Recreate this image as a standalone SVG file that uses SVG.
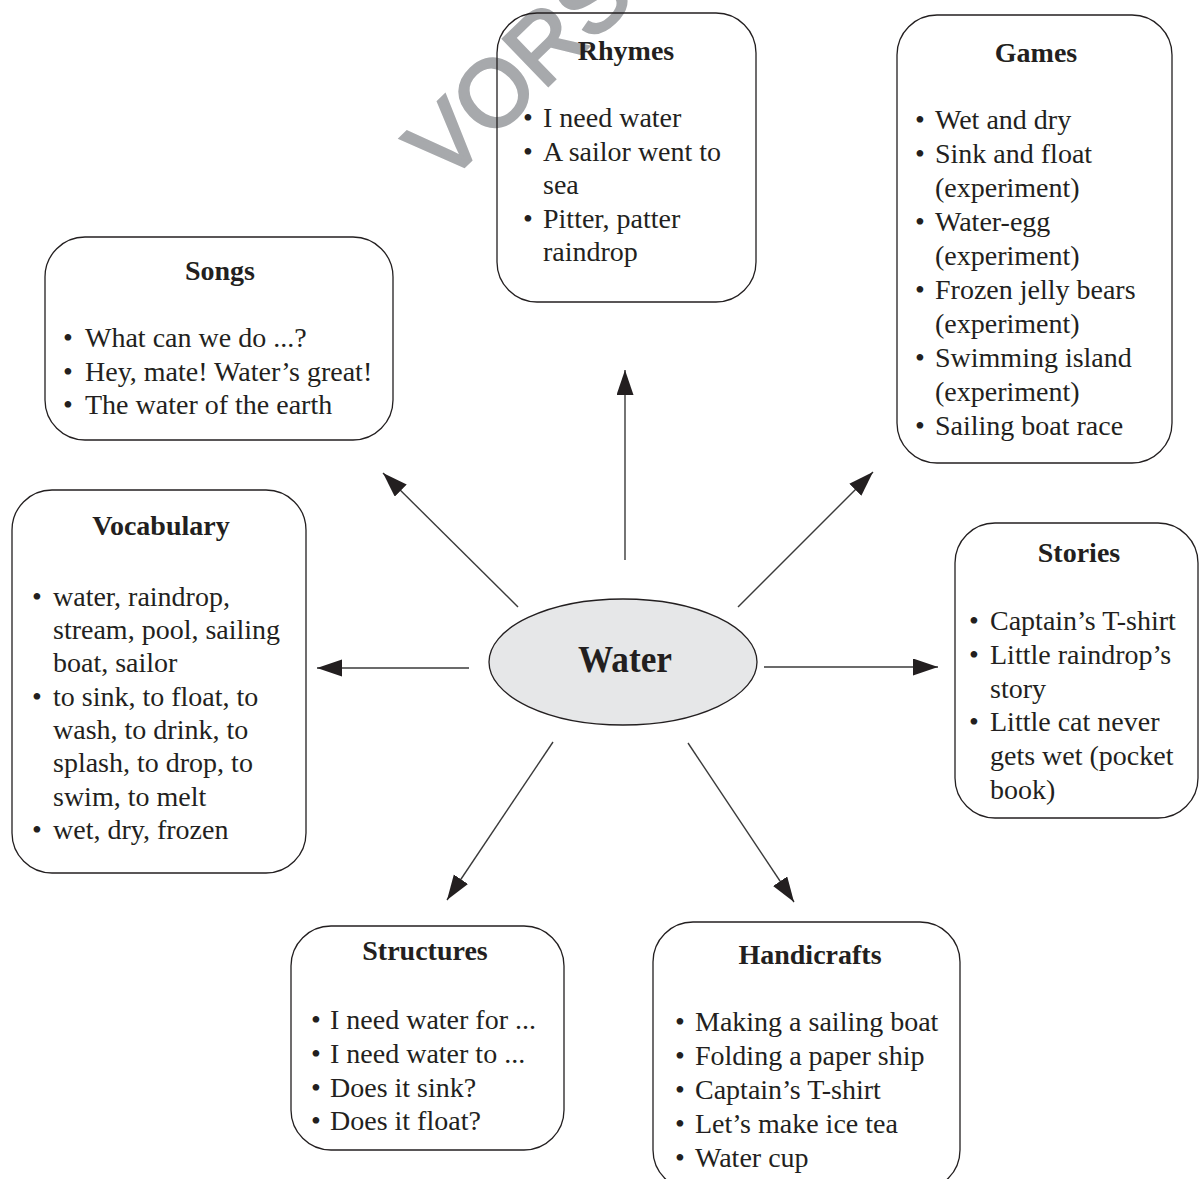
<svg xmlns="http://www.w3.org/2000/svg" width="1199" height="1179" viewBox="0 0 1199 1179">
<defs>
<marker id="ah" markerUnits="userSpaceOnUse" markerWidth="26" markerHeight="18" refX="25" refY="8.5" orient="auto">
<path d="M0,0 L25,8.5 L0,17 z" fill="#231f20"/>
</marker>
<style>
.box{fill:none;stroke:#231f20;stroke-width:1.3}
.t{font-family:"Liberation Serif","Times New Roman",serif;font-size:28px;fill:#231f20}
.h{font-family:"Liberation Serif","Times New Roman",serif;font-size:28px;font-weight:bold;fill:#231f20;text-anchor:middle}
.c{stroke:#3a3a3a;stroke-width:1.4;fill:none;marker-end:url(#ah)}
.wm{font-family:"Liberation Sans",Arial,sans-serif;font-size:94px;fill:#a7a9ac;stroke:#a7a9ac;stroke-width:3}
</style>
</defs>
<rect width="1199" height="1179" fill="#ffffff"/>
<text class="wm" x="445" y="185" transform="rotate(-44 445 185)">VORS</text>
<g id="connectors">
<line class="c" x1="625" y1="560" x2="625" y2="370"/>
<line class="c" x1="518" y1="607" x2="383" y2="473"/>
<line class="c" x1="738" y1="607" x2="873" y2="472"/>
<line class="c" x1="469" y1="668" x2="317" y2="668"/>
<line class="c" x1="764" y1="667" x2="938" y2="667"/>
<line class="c" x1="553" y1="742" x2="447" y2="900"/>
<line class="c" x1="688" y1="743" x2="794" y2="902"/>
</g>
<g id="water">
<ellipse cx="623" cy="662" rx="134" ry="63" fill="#e6e7e8" stroke="#231f20" stroke-width="1.3"/>
<text x="625" y="672" font-family="'Liberation Serif','Times New Roman',serif" font-size="38" font-weight="bold" fill="#231f20" text-anchor="middle" textLength="94" lengthAdjust="spacingAndGlyphs">Water</text>
</g>
<g id="rhymes">
<rect class="box" x="497" y="13" width="259" height="289" rx="40"/>
<text class="h" x="626" y="60">Rhymes</text>
<text class="t" x="523" y="127">•</text><text class="t" x="543" y="127">I need water</text>
<text class="t" x="523" y="161">•</text><text class="t" x="543" y="161">A sailor went to</text>
<text class="t" x="543" y="194">sea</text>
<text class="t" x="523" y="228">•</text><text class="t" x="543" y="228">Pitter, patter</text>
<text class="t" x="543" y="261">raindrop</text>
</g>
<g id="games">
<rect class="box" x="897" y="15" width="275" height="448" rx="40"/>
<text class="h" x="1036" y="62">Games</text>
<text class="t" x="915" y="129">•</text><text class="t" x="935" y="129">Wet and dry</text>
<text class="t" x="915" y="163">•</text><text class="t" x="935" y="163">Sink and float</text>
<text class="t" x="935" y="197">(experiment)</text>
<text class="t" x="915" y="231">•</text><text class="t" x="935" y="231">Water-egg</text>
<text class="t" x="935" y="265">(experiment)</text>
<text class="t" x="915" y="299">•</text><text class="t" x="935" y="299">Frozen jelly bears</text>
<text class="t" x="935" y="333">(experiment)</text>
<text class="t" x="915" y="367">•</text><text class="t" x="935" y="367">Swimming island</text>
<text class="t" x="935" y="401">(experiment)</text>
<text class="t" x="915" y="435">•</text><text class="t" x="935" y="435">Sailing boat race</text>
</g>
<g id="songs">
<rect class="box" x="45" y="237" width="348" height="203" rx="40"/>
<text class="h" x="220" y="280">Songs</text>
<text class="t" x="63" y="347">•</text><text class="t" x="85" y="347">What can we do ...?</text>
<text class="t" x="63" y="381">•</text><text class="t" x="85" y="381">Hey, mate! Water’s great!</text>
<text class="t" x="63" y="414">•</text><text class="t" x="85" y="414">The water of the earth</text>
</g>
<g id="vocabulary">
<rect class="box" x="12" y="490" width="294" height="383" rx="40"/>
<text class="h" x="161" y="535">Vocabulary</text>
<text class="t" x="32" y="606">•</text><text class="t" x="53" y="606">water, raindrop,</text>
<text class="t" x="53" y="639">stream, pool, sailing</text>
<text class="t" x="53" y="672">boat, sailor</text>
<text class="t" x="32" y="706">•</text><text class="t" x="53" y="706">to sink, to float, to</text>
<text class="t" x="53" y="739">wash, to drink, to</text>
<text class="t" x="53" y="772">splash, to drop, to</text>
<text class="t" x="53" y="806">swim, to melt</text>
<text class="t" x="32" y="839">•</text><text class="t" x="53" y="839">wet, dry, frozen</text>
</g>
<g id="stories">
<rect class="box" x="955" y="523" width="243" height="295" rx="40"/>
<text class="h" x="1079" y="562">Stories</text>
<text class="t" x="969" y="630">•</text><text class="t" x="990" y="630">Captain’s T-shirt</text>
<text class="t" x="969" y="664">•</text><text class="t" x="990" y="664">Little raindrop’s</text>
<text class="t" x="990" y="698">story</text>
<text class="t" x="969" y="731">•</text><text class="t" x="990" y="731">Little cat never</text>
<text class="t" x="990" y="765">gets wet (pocket</text>
<text class="t" x="990" y="799">book)</text>
</g>
<g id="structures">
<rect class="box" x="291" y="926" width="273" height="224" rx="40"/>
<text class="h" x="425" y="960">Structures</text>
<text class="t" x="311" y="1029">•</text><text class="t" x="330" y="1029">I need water for ...</text>
<text class="t" x="311" y="1063">•</text><text class="t" x="330" y="1063">I need water to ...</text>
<text class="t" x="311" y="1097">•</text><text class="t" x="330" y="1097">Does it sink?</text>
<text class="t" x="311" y="1130">•</text><text class="t" x="330" y="1130">Does it float?</text>
</g>
<g id="handicrafts">
<rect class="box" x="653" y="922" width="307" height="268" rx="40"/>
<text class="h" x="810" y="964">Handicrafts</text>
<text class="t" x="675" y="1031">•</text><text class="t" x="695" y="1031">Making a sailing boat</text>
<text class="t" x="675" y="1065">•</text><text class="t" x="695" y="1065">Folding a paper ship</text>
<text class="t" x="675" y="1099">•</text><text class="t" x="695" y="1099">Captain’s T-shirt</text>
<text class="t" x="675" y="1133">•</text><text class="t" x="695" y="1133">Let’s make ice tea</text>
<text class="t" x="675" y="1167">•</text><text class="t" x="695" y="1167">Water cup</text>
</g>
</svg>
